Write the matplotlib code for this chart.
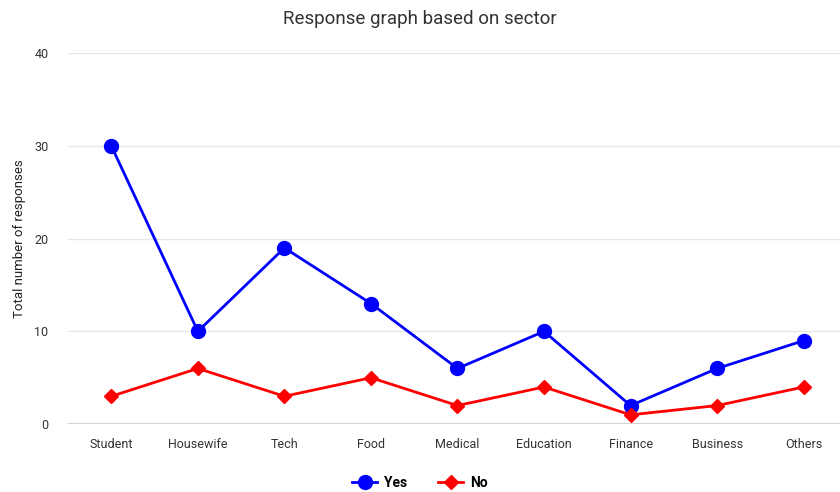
import matplotlib.pyplot as plt

plt.rcParams['font.family'] = ['Roboto', 'DejaVu Sans']

sectors = ['Student', 'Housewife', 'Tech', 'Food', 'Medical',
           'Education', 'Finance', 'Business', 'Others']
yes_counts = [30, 10, 19, 13, 6, 10, 2, 6, 9]
no_counts = [3, 6, 3, 5, 2, 4, 1, 2, 4]

fig = plt.figure(figsize=(8.4, 4.92), dpi=100)
ax = fig.add_axes([0.081, 0.138, 0.919, 0.754])

x = range(len(sectors))
ax.plot(x, yes_counts, color='#0000ff', linewidth=2, marker='o',
        markersize=10, label='Yes', zorder=3)
ax.plot(x, no_counts, color='#ff0000', linewidth=2, marker='D',
        markersize=7, label='No', zorder=4)

ax.set_xlim(-0.5, 8.42)
ax.set_ylim(0, 40)
ax.set_yticks([0, 10, 20, 30, 40])
ax.set_xticks(list(x))
ax.set_xticklabels(sectors)
ax.tick_params(length=0, labelsize=9, colors='#333333', pad=10)
ax.tick_params(axis='y', pad=14)

ax.grid(axis='y', color='#e6e6e6', linewidth=1)
ax.axhline(0, color='#cccccc', linewidth=1.2, zorder=2)
for s in ax.spines.values():
    s.set_visible(False)
ax.set_axisbelow(True)

ax.set_ylabel('Total number of responses', fontsize=9.5, color='#222222', labelpad=6)
fig.text(0.5, 0.962, 'Response graph based on sector', ha='center', va='center',
         fontsize=13.5, color='#333333')

fig.legend(loc='center', bbox_to_anchor=(0.5, 0.018), ncol=2, frameon=False,
           prop={'weight': 'bold', 'size': 10}, handlelength=1.8,
           columnspacing=2.2, handletextpad=0.5)

fig.savefig('out.png', dpi=100)
